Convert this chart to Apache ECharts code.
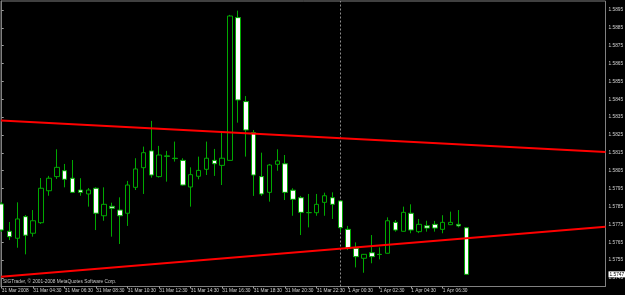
<!DOCTYPE html>
<html>
<head>
<meta charset="utf-8">
<script src="https://cdn.jsdelivr.net/npm/echarts@6/dist/echarts.min.js"></script>
<style>html,body{margin:0;padding:0;background:#000;}#c{width:625px;height:295px;}</style>
</head>
<body>
<div id="c"></div>
<script>
// 30-minute bars, bar 0 = 31 Mar 2008 02:30
const opens  = [1.57864,1.57711,1.57672,1.57793,1.57700,1.57759,1.57938,1.58017,1.58050,1.58008,
                1.57942,1.57920,1.57952,1.57798,1.57851,1.57830,1.57812,1.57957,1.58067,1.58161,
                1.58017,1.58133,1.58120,1.58108,1.57959,1.58019,1.58058,1.58108,1.58080,1.58108,
                1.58907,1.58437,1.58263,1.58017,1.57929,1.58086,1.58089,1.57941,1.57899,1.57815,
                1.57815,1.57873,1.57899,1.57881,1.57722,1.57616,1.57560,1.57591,1.57582,1.57588,
                1.57761,1.57711,1.57812,1.57709,1.57742,1.57750,1.57722,1.57748,1.57750,1.57731];
const closes = [1.57718,1.57681,1.57780,1.57689,1.57770,1.57952,1.58008,1.58069,1.58002,1.57929,
                1.57929,1.57942,1.57812,1.57862,1.57840,1.57798,1.57970,1.58060,1.58151,1.58026,
                1.58138,1.58131,1.58118,1.57970,1.58028,1.58052,1.58120,1.58089,1.58120,1.58916,
                1.58446,1.58278,1.58026,1.57920,1.58082,1.58105,1.57929,1.57890,1.57817,1.57816,
                1.57862,1.57910,1.57862,1.57731,1.57616,1.57569,1.57582,1.57569,1.57581,1.57770,
                1.57718,1.57817,1.57718,1.57750,1.57729,1.57729,1.57761,1.57761,1.57741,1.57470];
const lows   = [1.57707,1.57662,1.57619,1.57582,1.57681,1.57752,1.57910,1.58004,1.57957,1.57925,
                1.57910,1.57849,1.57718,1.57770,1.57681,1.57640,1.57741,1.57942,1.57920,1.58011,
                1.58012,1.57989,1.58101,1.57967,1.57849,1.58002,1.58026,1.58021,1.57970,1.58107,
                1.58319,1.58129,1.57909,1.57909,1.57877,1.58050,1.57886,1.57798,1.57690,1.57733,
                1.57798,1.57798,1.57780,1.57705,1.57606,1.57509,1.57479,1.57532,1.57554,1.57587,
                1.57709,1.57710,1.57700,1.57701,1.57709,1.57709,1.57700,1.57746,1.57733,1.57470];
const highs  = [1.57875,1.57763,1.57873,1.57802,1.57830,1.58009,1.58021,1.58170,1.58088,1.58110,
                1.58008,1.57953,1.57957,1.57957,1.57871,1.57901,1.57993,1.58120,1.58185,1.58329,
                1.58189,1.58161,1.58213,1.58120,1.58069,1.58129,1.58213,1.58172,1.58265,1.58922,
                1.58946,1.58468,1.58278,1.58151,1.58088,1.58170,1.58138,1.57952,1.57909,1.57920,
                1.57920,1.57927,1.57929,1.57883,1.57741,1.57649,1.57584,1.57690,1.57621,1.57789,
                1.57774,1.57849,1.57862,1.57780,1.57770,1.57769,1.57801,1.57821,1.57830,1.57732];

const timeLabels = ['31 Mar 2008','31 Mar 04:30','31 Mar 06:30','31 Mar 08:30','31 Mar 10:30',
                    '31 Mar 12:30','31 Mar 14:30','31 Mar 16:30','31 Mar 18:30','31 Mar 20:30',
                    '31 Mar 22:30','1 Apr 00:30','1 Apr 02:30','1 Apr 04:30','1 Apr 06:30'];
const timeLabelBars = [0,4,8,12,16,20,24,28,32,36,40,44,48,52,56];
const priceTicks = [1.5745,1.5755,1.5765,1.5775,1.5785,1.5795,1.5805,1.5815,1.5825,1.5835,
                    1.5845,1.5855,1.5865,1.5875,1.5885,1.5895];
const bidPrice = 1.5747;
const separatorBar = 43; // 1 Apr 00:00
// trend lines: [barStart, priceStart, barEnd, priceEnd]
const trendUpper = [-0.09, 1.58331, 76.67, 1.58155];
const trendLower = [-0.09, 1.57457, 76.67, 1.57737];

const X_MIN = -0.09, X_MAX = 76.67;
const Y_MIN = 1.57402, Y_MAX = 1.59000;
const FONT = 'Liberation Sans';

const candleData = opens.map((o, i) => [i, o, closes[i], lows[i], highs[i]]);

const chart = echarts.init(document.getElementById('c'));
chart.setOption({
  backgroundColor: '#000000',
  animation: false,
  grid: { left: 1, top: 1, right: 19.5, bottom: 8.5, show: true, borderColor: '#808080', borderWidth: 1,
          outerBoundsMode: 'none', containLabel: false },
  xAxis: {
    type: 'value', min: X_MIN, max: X_MAX,
    splitLine: { show: false },
    axisLine: { show: true, lineStyle: { color: '#808080', width: 1 } },
    axisTick: { show: true, customValues: timeLabelBars, length: 2, lineStyle: { color: '#a0a0a0' } },
    axisLabel: {
      customValues: timeLabelBars,
      formatter: v => timeLabels[timeLabelBars.indexOf(Math.round(v))] || '',
      align: 'left', margin: 2, fontSize: 4.8, color: '#d0d0d0', fontFamily: FONT
    }
  },
  yAxis: {
    type: 'value', position: 'right', min: Y_MIN, max: Y_MAX,
    splitLine: { show: false },
    axisLine: { show: true, lineStyle: { color: '#808080', width: 1 } },
    axisTick: { show: true, customValues: priceTicks, length: 2, lineStyle: { color: '#a0a0a0' } },
    axisLabel: {
      customValues: priceTicks.concat([bidPrice]),
      formatter: v => Math.abs(v - bidPrice) < 1e-7 ? '{bid|' + bidPrice.toFixed(4) + '}' : Number(v).toFixed(4),
      margin: 3, fontSize: 4.8, color: '#d0d0d0', fontFamily: FONT,
      rich: { bid: { backgroundColor: '#ffffff', color: '#000000', fontSize: 4.8, fontFamily: FONT, padding: [0.5, 1] } }
    }
  },
  graphic: [{
    type: 'text', left: 3, top: 279,
    style: { text: 'SIGTrader, © 2001-2008 MetaQuotes Software Corp.', fill: '#c8c8c8', fontSize: 4.8, fontFamily: FONT }
  }],
  series: [
    {
      type: 'candlestick',
      z: 3,
      data: candleData,
      barWidth: 5,
      itemStyle: { color: '#000000', color0: '#ffffff', borderColor: '#00a800', borderColor0: '#00a800', borderWidth: 1 },
      markLine: {
        z: 1, silent: true, symbol: 'none', animation: false,
        data: [
          { xAxis: separatorBar, lineStyle: { type: [2, 2], color: '#8c8c8c', width: 1 }, label: { show: false } },
          { yAxis: bidPrice, lineStyle: { type: 'solid', color: '#3e454c', width: 1 }, label: { show: false } }
        ]
      }
    },
    {
      type: 'line', z: 10, showSymbol: false, silent: true,
      data: [[trendUpper[0], trendUpper[1]], [trendUpper[2], trendUpper[3]]],
      lineStyle: { color: '#ff0000', width: 2 }
    },
    {
      type: 'line', z: 10, showSymbol: false, silent: true,
      data: [[trendLower[0], trendLower[1]], [trendLower[2], trendLower[3]]],
      lineStyle: { color: '#ff0000', width: 2 }
    }
  ]
});
</script>
</body>
</html>
